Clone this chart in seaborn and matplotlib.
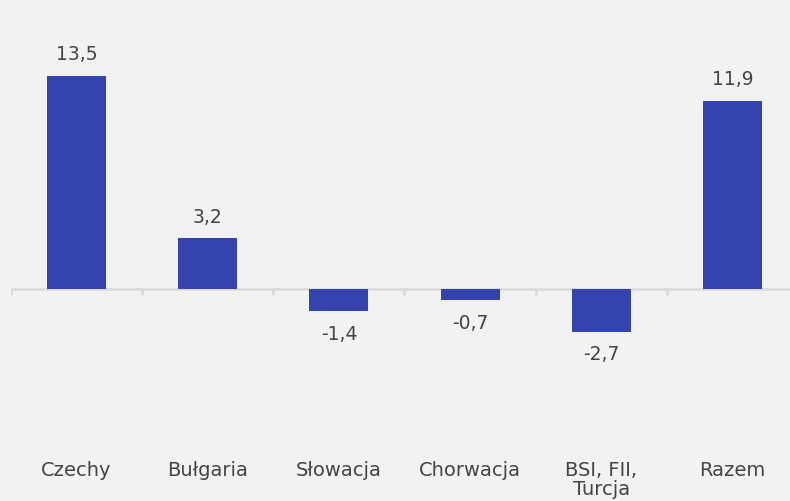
import numpy as np
import pandas as pd
import seaborn as sns
import matplotlib.pyplot as plt

categories = ["Czechy", "Bułgaria", "Słowacja", "Chorwacja", "BSI, FII,\nTurcja", "Razem"]
values = [13.5, 3.2, -1.4, -0.7, -2.7, 11.9]

df = pd.DataFrame({"kraj": categories, "wartosc": values})

bg = "#f2f2f2"
bar_color = "#3543ae"
text_color = "#444444"

sns.set_theme(style="white")
plt.rcParams["font.family"] = ["DejaVu Sans"]

fig = plt.figure(figsize=(7.9, 5.02), dpi=100, facecolor=bg)
ax = fig.add_axes([11 / 790, 47 / 502, 787 / 790, 455 / 502])
ax.set_facecolor(bg)

sns.barplot(data=df, x="kraj", y="wartosc", color=bar_color, width=0.45,
            saturation=1, linewidth=0, ax=ax)

# zero line with small tick marks between categories
ax.axhline(0, color="#d9d9d9", lw=1.8, zorder=0)
ax.vlines(np.arange(-0.5, len(categories)), -0.35, 0, color="#d9d9d9", lw=1.8, zorder=0)

ax.set_xlim(-0.5, len(categories) - 0.5)
ax.set_ylim(-10.44, 18.35)

# value labels
for i, v in enumerate(values):
    label = f"{v:.1f}".replace(".", ",")
    if v >= 0:
        ax.annotate(label, (i, v), xytext=(0, 9), textcoords="offset points",
                    ha="center", va="bottom", fontsize=13.5, color=text_color)
    else:
        ax.annotate(label, (i, v), xytext=(0, -9), textcoords="offset points",
                    ha="center", va="top", fontsize=13.5, color=text_color)

ax.set_xlabel("")
ax.set_ylabel("")
ax.set_yticks([])
ax.tick_params(axis="x", length=0, pad=4, labelsize=14, labelcolor=text_color)
for lbl in ax.get_xticklabels():
    lbl.set_linespacing(1.05)
    lbl.set_verticalalignment("top")
sns.despine(ax=ax, left=True, bottom=True)

fig.savefig("out.png", dpi=100, facecolor=bg)
